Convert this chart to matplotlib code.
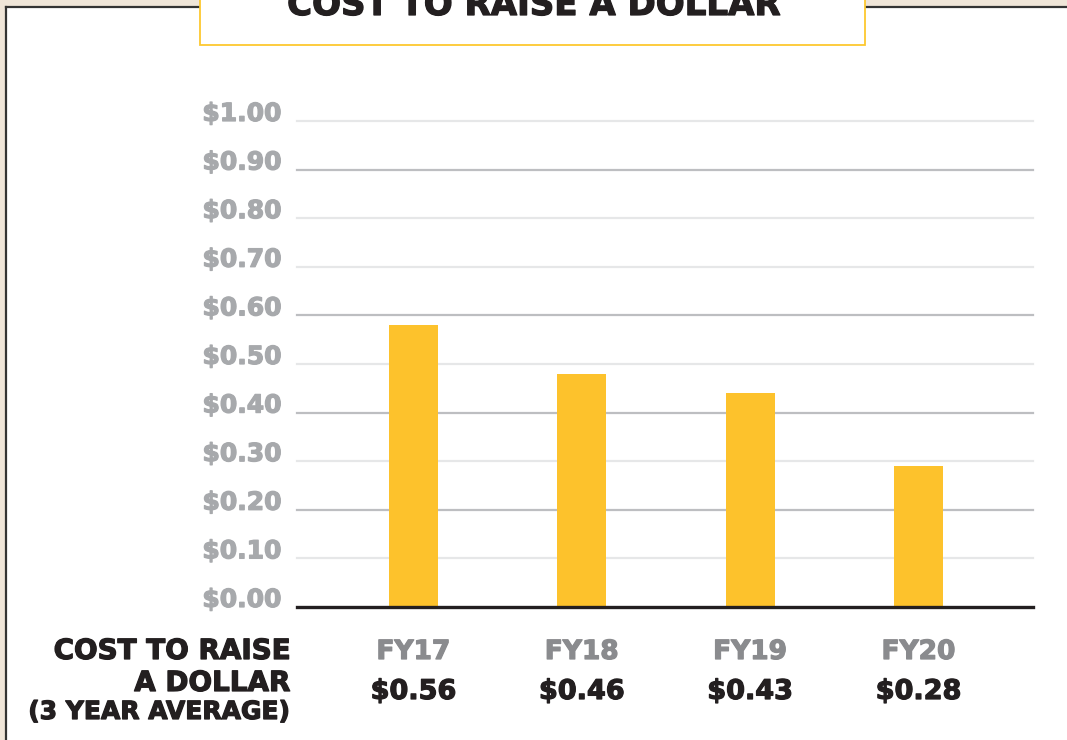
import numpy as np
import matplotlib
matplotlib.use("Agg")
import matplotlib.pyplot as plt
import matplotlib.patheffects as pe
from matplotlib.patches import Rectangle
from matplotlib.lines import Line2D

# --- data ---------------------------------------------------------------
years        = ["FY17", "FY18", "FY19", "FY20"]
bar_heights  = [0.58, 0.48, 0.44, 0.29]          # bar tops as drawn in the chart
value_labels = ["$0.56", "$0.46", "$0.43", "$0.28"]
y_ticks      = [0.0, 0.1, 0.2, 0.3, 0.4, 0.5, 0.6, 0.7, 0.8, 0.9, 1.0]
y_labels     = ["$0.00", "$0.10", "$0.20", "$0.30", "$0.40", "$0.50",
                "$0.60", "$0.70", "$0.80", "$0.90", "$1.00"]
title        = "COST TO RAISE A DOLLAR"
side_label   = ["COST TO RAISE", "A DOLLAR", "(3 YEAR AVERAGE)"]

# --- style --------------------------------------------------------------
BAR_C    = "#fdc22c"
GREY_TXT = "#a7a9ac"
FY_TXT   = "#8a8b8e"
DARK     = "#231f20"
GRID_LT  = "#e6e7e8"
GRID_DK  = "#bdbec1"
BEIGE    = "#efe5d8"
dark_grid = {0.2, 0.4, 0.6, 0.9}

W, H = 1067, 740
plt.rcParams["font.family"] = ["DejaVu Sans"]
plt.rcParams["font.weight"] = "bold"

fig = plt.figure(figsize=(W / 100, H / 100), dpi=100)
fig.patch.set_facecolor(BEIGE)


def fx(px):
    return px / W


def fy(py):
    # py measured from the top of the image
    return 1 - py / H


def heavy(c):
    # a thin stroke in the text colour to make the bold a bit heavier
    return [pe.withStroke(linewidth=0.9, foreground=c)]


# white panel with dark border
fig.add_artist(Rectangle((fx(6), 0), 1, fy(6), transform=fig.transFigure,
                         facecolor="white", edgecolor="none", zorder=0))
fig.add_artist(Line2D([fx(6), 1], [fy(6.5), fy(6.5)], transform=fig.transFigure,
                      color="#333333", lw=1.6, zorder=1))
fig.add_artist(Line2D([fx(6), fx(6)], [0, fy(6.5)], transform=fig.transFigure,
                      color="#333333", lw=1.6, zorder=1))

# title box (cut off at the top, as in the source image)
fig.add_artist(Rectangle((fx(200), fy(45)), fx(665), 0.2, transform=fig.transFigure,
                         facecolor="white", edgecolor="#fdc82f", lw=1.3, zorder=2))
fig.text(fx(534), fy(15), title, ha="center", va="baseline", fontsize=24.5,
         fontweight="bold", color=DARK, zorder=3, path_effects=heavy(DARK))

# --- chart --------------------------------------------------------------
ax = fig.add_axes([fx(297), fy(607), fx(1033 - 297), (607 - 121) / H])
ax.set_facecolor("none")
x = np.arange(len(years))

for t in y_ticks[1:]:
    ax.axhline(t, color=GRID_DK if t in dark_grid else GRID_LT, lw=1.6,
               zorder=1, clip_on=False)

ax.bar(x, bar_heights, width=0.29, color=BAR_C, zorder=2)
ax.axhline(0, color=DARK, lw=2.4, zorder=3, clip_on=False)

ax.set_xlim(-0.692, 3.68)
ax.set_ylim(0, 1.0)
for s in ax.spines.values():
    s.set_visible(False)

ax.set_xticks([])
ax.set_yticks(y_ticks, y_labels)
ax.tick_params(axis="y", length=0, pad=11, labelsize=18, labelcolor=GREY_TXT)
for lbl in ax.get_yticklabels():
    lbl.set_fontweight("bold")
    lbl.set_va("baseline")
    lbl.set_path_effects(heavy(GREY_TXT))

trans = ax.get_xaxis_transform()
for xi, yr, val in zip(x, years, value_labels):
    ax.text(xi, -52 / 486, yr, transform=trans, ha="center", va="baseline",
            fontsize=19, fontweight="bold", color=FY_TXT, path_effects=heavy(FY_TXT))
    ax.text(xi, -92 / 486, val, transform=trans, ha="center", va="baseline",
            fontsize=19.5, fontweight="bold", color=DARK, path_effects=heavy(DARK))

# left-hand label
for txt, base, size in zip(side_label, [659, 691, 719], [20, 20, 18]):
    fig.text(fx(290), fy(base), txt, ha="right", va="baseline",
             fontsize=size, fontweight="bold", color=DARK, path_effects=heavy(DARK))

fig.savefig("out.png", dpi=100, facecolor=fig.get_facecolor())
